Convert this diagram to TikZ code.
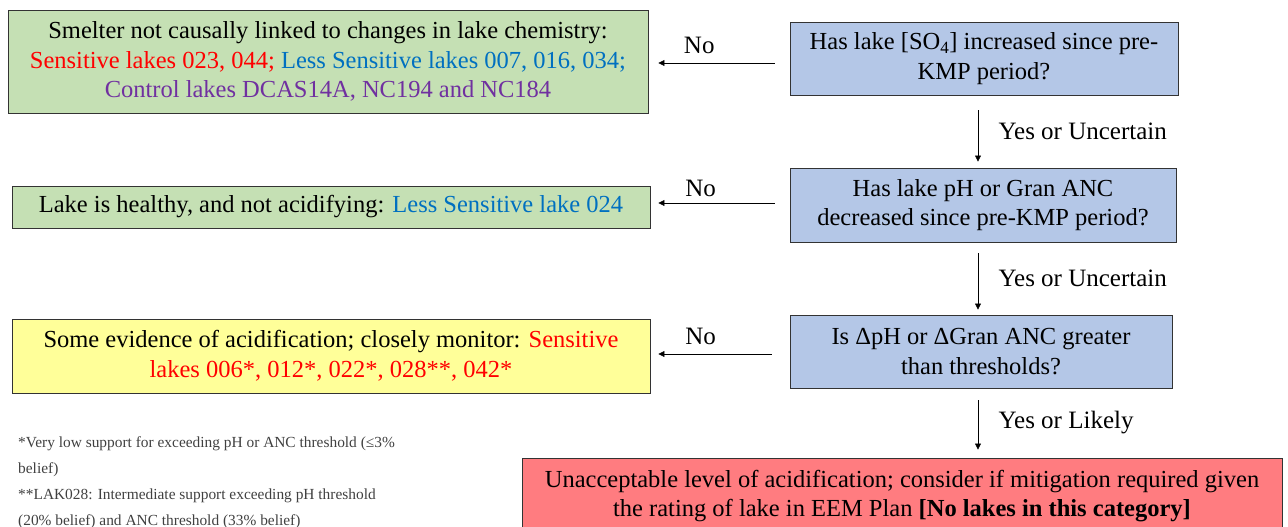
\documentclass[tikz,border=0pt]{standalone}
\usepackage{fontspec}
\setmainfont{Liberation Serif}
\usetikzlibrary{positioning,arrows.meta}

\definecolor{okgreen}{HTML}{C5E0B4}
\definecolor{askblue}{HTML}{B4C7E7}
\definecolor{watchyellow}{HTML}{FFFF99}
\definecolor{alarmred}{HTML}{FF7C80}
\definecolor{senscol}{HTML}{FF0000}
\definecolor{lesscol}{HTML}{0070C0}
\definecolor{ctrlcol}{HTML}{7030A0}

\tikzset{
  box/.style={draw=black!80, line width=0.9pt, align=center, inner sep=0pt,
    font=\fontsize{24.5}{29.5}\selectfont},
  question/.style={box, fill=askblue, minimum height=73pt},
  verdict/.style={box, minimum width=638pt},
  flow/.style={-{Triangle[length=6pt,width=6pt]}, line width=0.6pt},
  answer/.style={font=\fontsize{25}{28}\selectfont},
}

\begin{document}
\begin{tikzpicture}[x=1pt, y=-1pt]
    \useasboundingbox (0,0) rectangle (1288,527);

    % Questions down the right
    \node[question, minimum width=388pt] (hasso) at (984,58.5)
        {Has lake [SO\textsubscript{4}] increased since pre-\\KMP period?};
    \node[question, minimum width=386pt, minimum height=74pt] (hasph) at (983,205)
        {Has lake pH or Gran ANC\\decreased since pre-KMP period?};
    \node[question, minimum width=382pt] (delta) at (981,351.5)
        {Is ΔpH or ΔGran ANC greater\\than thresholds?};

    % Outcomes on the left
    \node[verdict, fill=okgreen, minimum width=640pt, minimum height=103pt] (notlinked) at (328,61.5)
        {Smelter not causally linked to changes in lake chemistry:\\
         \textcolor{senscol}{Sensitive lakes 023, 044;} \textcolor{lesscol}{Less Sensitive lakes 007, 016, 034;}\\
         \textcolor{ctrlcol}{Control lakes DCAS14A, NC194 and NC184}};
    \node[verdict, fill=okgreen, minimum height=42pt] (healthy) at (331,207)
        {Lake is healthy, and not acidifying: \textcolor{lesscol}{Less Sensitive lake 024}};
    \node[verdict, fill=watchyellow, minimum height=74pt] (monitor) at (331,356)
        {Some evidence of acidification; closely monitor: \textcolor{senscol}{Sensitive}\\
         \textcolor{senscol}{lakes 006*, 012*, 022*, 028**, 042*}};
    \node[box, fill=alarmred, minimum width=760pt, minimum height=76pt] (unaccept) at (902,496)
        {Unacceptable level of acidification; consider if mitigation required given\\
         the rating of lake in EEM Plan \textbf{[No lakes in this category]}};

    % Footnotes
    \node[anchor=north west, align=left, inner sep=0pt, text=black!75,
        font=\fontsize{15.4}{26}\selectfont] (notes) at (18,436)
        {*Very low support for exceeding pH or ANC threshold (≤3\%\\
         belief)\\
         **LAK028: Intermediate support exceeding pH threshold\\
         (20\% belief) and ANC threshold (33\% belief)};

    % No branches
    \draw[flow, shorten <=15pt, shorten >=10pt] (hasso.west |- 0,63) -- node[answer, above=6pt, pos=0.64] {No} (notlinked.east |- 0,63);
    \draw[flow, shorten <=15pt, shorten >=8pt] (hasph.west |- 0,203) -- node[answer, above=3pt, pos=0.64] {No} (healthy.east |- 0,203);
    \draw[flow, shorten <=18pt, shorten >=8pt] (delta.west |- 0,354) -- node[answer, above=6pt, pos=0.64] {No} (monitor.east |- 0,354);

    % Yes branches
    \draw[flow, shorten <=15pt, shorten >=6pt] (hasso.south -| 978,0) -- node[answer, right=17pt] {Yes or Uncertain} (hasph.north -| 978,0);
    \draw[flow, shorten <=11pt, shorten >=5pt] (hasph.south -| 978,0) -- node[answer, right=17pt] {Yes or Uncertain} (delta.north -| 978,0);
    \draw[flow, shorten <=12pt, shorten >=8pt] (delta.south -| 978,0) -- node[answer, right=17pt] {Yes or Likely} (unaccept.north -| 978,0);
\end{tikzpicture}
\end{document}
